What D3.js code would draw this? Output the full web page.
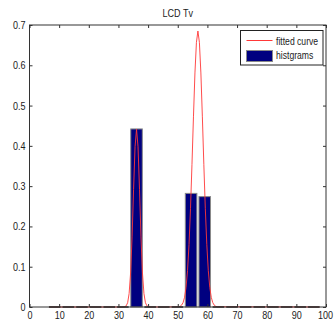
<!DOCTYPE html>
<html>
<head>
<meta charset="utf-8">
<script src="https://cdn.jsdelivr.net/npm/d3@7"></script>
<style>
  html, body { margin: 0; padding: 0; background: #fff; }
  svg text { font-family: "Liberation Sans", Arial, sans-serif; }
</style>
</head>
<body>
<svg id="chart" width="335" height="326"></svg>
<script>
// ---- data ----
const title = "LCD Tv";
const xTicks = [0, 10, 20, 30, 40, 50, 60, 70, 80, 90, 100];
const yTicks = [0, 0.1, 0.2, 0.3, 0.4, 0.5, 0.6, 0.7];
const legendLabels = ["fitted curve", "histgrams"];

const binCenters = [8.5, 13.1, 17.7, 22.3, 26.9, 31.5, 36.1, 40.7, 45.3, 49.9,
                    54.5, 59.1, 63.7, 68.3, 72.9, 77.5, 82.1, 86.7, 91.3, 95.9];
const binValues  = [0, 0, 0, 0, 0, 0, 0.442, 0, 0, 0,
                    0.282, 0.274, 0, 0, 0, 0, 0, 0, 0, 0];
const binWidth = 3.9;

const curveX = [6.6, 31.1, 31.6, 32.1, 32.6, 33.1, 33.6, 34.1, 34.6, 35.1, 35.6, 36.1,
                36.6, 37.1, 37.6, 38.1, 38.6, 39.1, 39.6, 40.1, 40.6, 45.5,
                50.3, 50.8, 51.3, 51.8, 52.3, 52.8, 53.3, 53.8, 54.3, 54.8, 55.3, 55.8,
                56.3, 56.8, 57.3, 57.8, 58.3, 58.8, 59.3, 59.8, 60.3, 60.8, 61.3, 61.8,
                62.3, 62.8, 63.3, 97.8];
const curveY = [0, 0, 0.0001, 0.0006, 0.0028, 0.0107, 0.0333, 0.0845, 0.174, 0.292, 0.398, 0.441,
                0.398, 0.292, 0.174, 0.0845, 0.0333, 0.0107, 0.0028, 0.0006, 0.0001, 0,
                0.0006, 0.0018, 0.0046, 0.011, 0.0242, 0.0488, 0.0906, 0.155, 0.244, 0.354, 0.472, 0.581,
                0.657, 0.685, 0.657, 0.581, 0.472, 0.354, 0.244, 0.155, 0.0906, 0.0488, 0.0242, 0.011,
                0.0046, 0.0018, 0.0006, 0];

// ---- layout ----
const svg = d3.select("#chart");
const L = 29.5, R = 326, T = 25, B = 307;
const x = d3.scaleLinear().domain([0, 100]).range([L, R]);
const y = d3.scaleLinear().domain([0, 0.7]).range([B, T]);

// title
svg.append("text").attr("x", (L + R) / 2).attr("y", 17)
  .attr("text-anchor", "middle").attr("font-size", 11).attr("fill", "#222").text(title);

// bars (non-zero)
const bars = binCenters.map((c, i) => ({ c, v: binValues[i] }));
svg.append("g").selectAll("rect").data(bars.filter(d => d.v > 0)).join("rect")
  .attr("x", d => x(d.c - binWidth / 2))
  .attr("width", d => x(d.c + binWidth / 2) - x(d.c - binWidth / 2))
  .attr("y", d => y(d.v))
  .attr("height", d => y(0) - y(d.v))
  .attr("fill", "#000080")
  .attr("stroke", "#8a8a8a").attr("stroke-width", 1);

// fitted curve
const line = d3.line().x((d, i) => x(curveX[i])).y(d => y(d));
svg.append("path").datum(curveY).attr("d", line)
  .attr("fill", "none").attr("stroke", "#ff3838").attr("stroke-width", 0.9);

// zero-height bars drawn as flat edges
svg.append("g").selectAll("line").data(bars.filter(d => d.v === 0)).join("line")
  .attr("x1", d => x(d.c - binWidth / 2)).attr("x2", d => x(d.c + binWidth / 2))
  .attr("y1", y(0)).attr("y2", y(0))
  .attr("stroke", "#222").attr("stroke-width", 1.5);

// axes
function styleAxis(g, showText) {
  g.select(".domain").remove();
  g.selectAll(".tick line").attr("stroke", "#333");
  g.selectAll(".tick text").attr("fill", "#222").attr("font-size", 11);
  if (!showText) g.selectAll(".tick text").remove();
}
svg.append("g").attr("transform", `translate(0,${B})`)
  .call(d3.axisBottom(x).tickValues(xTicks).tickFormat(d3.format("d"))
    .tickSizeInner(-3).tickSizeOuter(0).tickPadding(4))
  .call(g => styleAxis(g, true))
  .call(g => g.selectAll(".tick text").filter(d => d === 100)
    .attr("text-anchor", "end").attr("x", 6.5));
svg.append("g").attr("transform", `translate(0,${T})`)
  .call(d3.axisTop(x).tickValues(xTicks).tickSizeInner(-3).tickSizeOuter(0))
  .call(g => styleAxis(g, false));
svg.append("g").attr("transform", `translate(${L},0)`)
  .call(d3.axisLeft(y).tickValues(yTicks).tickFormat(d => d === 0 ? "0" : d3.format(".1f")(d))
    .tickSizeInner(-3).tickSizeOuter(0).tickPadding(4))
  .call(g => styleAxis(g, true));
svg.append("g").attr("transform", `translate(${R},0)`)
  .call(d3.axisRight(y).tickValues(yTicks).tickSizeInner(-3).tickSizeOuter(0))
  .call(g => styleAxis(g, false));

// box
svg.append("rect").attr("x", L).attr("y", T).attr("width", R - L).attr("height", B - T)
  .attr("fill", "none").attr("stroke", "#333").attr("stroke-width", 1);

// legend
const lg = svg.append("g");
lg.append("rect").attr("x", 240.5).attr("y", 30.5).attr("width", 82.5).attr("height", 34.5)
  .attr("fill", "#fff").attr("stroke", "#222").attr("stroke-width", 1);
lg.append("line").attr("x1", 246.5).attr("x2", 272.5).attr("y1", 40.5).attr("y2", 40.5)
  .attr("stroke", "#ff3838").attr("stroke-width", 1);
lg.append("rect").attr("x", 246.5).attr("y", 50.5).attr("width", 26).attr("height", 11)
  .attr("fill", "#000080").attr("stroke", "#8a8a8a");
lg.selectAll("text").data(legendLabels).join("text")
  .attr("x", 276).attr("y", (d, i) => i === 0 ? 44.5 : 59)
  .attr("font-size", 10.5).attr("fill", "#222").text(d => d);

// narrow the glyphs horizontally to match the condensed look of the original
svg.selectAll("text").each(function () {
  const w = this.getComputedTextLength();
  if (w > 0) {
    this.setAttribute("textLength", (w * 0.82).toFixed(2));
    this.setAttribute("lengthAdjust", "spacingAndGlyphs");
  }
});
</script>
</body>
</html>
